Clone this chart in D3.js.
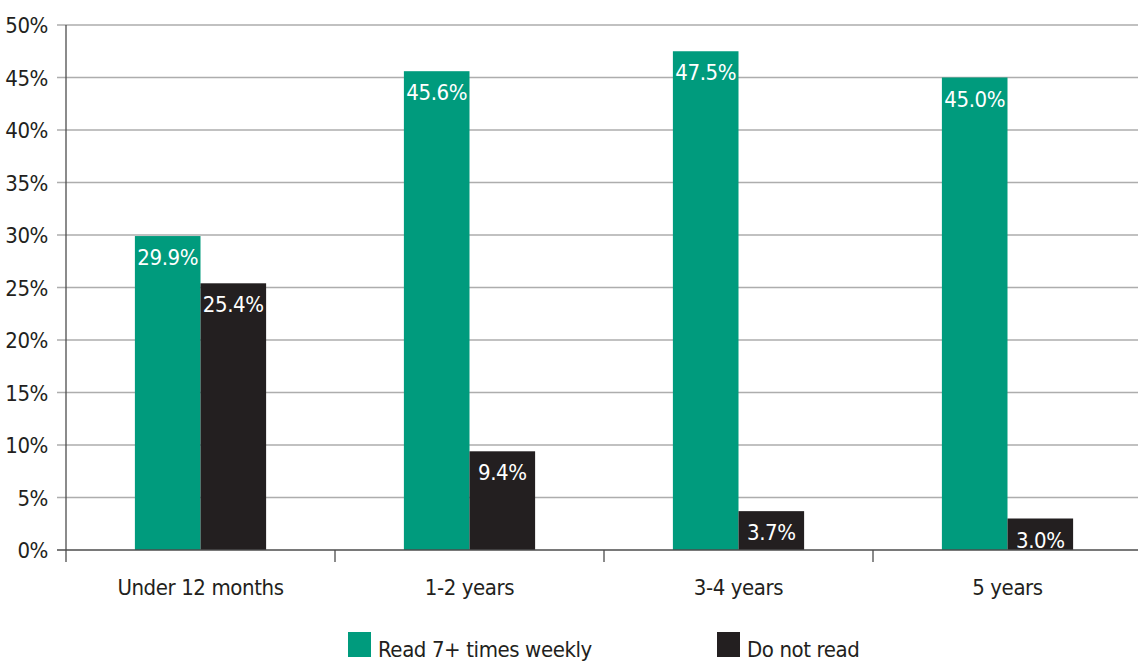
<!DOCTYPE html>
<html>
<head>
<meta charset="utf-8">
<script src="https://cdn.jsdelivr.net/npm/d3@7"></script>
<style>
  html, body { margin: 0; padding: 0; background: #fff; }
  svg text { font-family: "Liberation Sans Narrow", "Arial Narrow", "DejaVu Sans Condensed", sans-serif; letter-spacing: -0.4px; }
</style>
</head>
<body>
<svg id="chart" width="1138" height="662"></svg>
<script>
// Reading frequency by length of time in programme
const categories = ["Under 12 months", "1-2 years", "3-4 years", "5 years"];
const seriesNames = ["Read 7+ times weekly", "Do not read"];
const readWeekly = [29.9, 45.6, 47.5, 45.0];
const doNotRead = [25.4, 9.4, 3.7, 3.0];
const yTicks = [0, 5, 10, 15, 20, 25, 30, 35, 40, 45, 50];
const colors = ["#009b7d", "#231f20"];

const series = [readWeekly, doNotRead];
const svg = d3.select("#chart");

const x0 = d3.scaleBand().domain(categories).range([66, 1142]).paddingInner(0).paddingOuter(0);
const x1 = d3.scaleBand().domain(d3.range(series.length)).range([0, x0.bandwidth()])
  .paddingInner(0).paddingOuter(1.05);
const y = d3.scaleLinear().domain([0, 50]).range([550, 25]);

// horizontal gridlines with short ticks left of the axis
svg.append("g").selectAll("line").data(yTicks.filter(d => d > 0)).join("line")
  .attr("x1", 57).attr("x2", 1138)
  .attr("y1", d => y(d)).attr("y2", d => y(d))
  .attr("stroke", "#adadad").attr("stroke-width", 1.3);

// y tick labels
svg.append("g").selectAll("text").data(yTicks).join("text")
  .attr("x", 48).attr("y", d => y(d) + 8)
  .attr("text-anchor", "end")
  .attr("font-size", 22).attr("fill", "#231f20")
  .text(d => d + "%");

// bars
const groups = svg.append("g").selectAll("g").data(categories).join("g")
  .attr("transform", d => `translate(${x0(d)},0)`);

groups.selectAll("rect").data((c, i) => series.map((s, k) => ({ k, v: s[i] }))).join("rect")
  .attr("x", d => x1(d.k)).attr("width", x1.bandwidth())
  .attr("y", d => y(d.v)).attr("height", d => y(0) - y(d.v))
  .attr("fill", d => colors[d.k]);

groups.selectAll("text").data((c, i) => series.map((s, k) => ({ k, v: s[i] }))).join("text")
  .attr("x", d => x1(d.k) + x1.bandwidth() / 2)
  .attr("y", d => y(d.v) + 29)
  .attr("text-anchor", "middle")
  .attr("font-size", 22).attr("fill", "#fff")
  .text(d => d.v.toFixed(1) + "%");

// axes lines
svg.append("line").attr("x1", 66).attr("x2", 66).attr("y1", 25).attr("y2", 562)
  .attr("stroke", "#4d4d4d").attr("stroke-width", 1.3);
svg.append("line").attr("x1", 57).attr("x2", 1138).attr("y1", 550).attr("y2", 550)
  .attr("stroke", "#4d4d4d").attr("stroke-width", 1.3);

// category boundary ticks
svg.append("g").selectAll("line").data(categories.slice(1)).join("line")
  .attr("x1", d => x0(d)).attr("x2", d => x0(d))
  .attr("y1", 550).attr("y2", 562)
  .attr("stroke", "#4d4d4d").attr("stroke-width", 1.3);

// category labels
svg.append("g").selectAll("text").data(categories).join("text")
  .attr("x", d => x0(d) + x0.bandwidth() / 2).attr("y", 595)
  .attr("text-anchor", "middle")
  .attr("font-size", 22).attr("fill", "#231f20")
  .text(d => d);

// legend
const legendX = [348, 717];
const legend = svg.append("g").selectAll("g").data(seriesNames).join("g")
  .attr("transform", (d, i) => `translate(${legendX[i]},632)`);
legend.append("rect").attr("width", 23).attr("height", 25).attr("fill", (d, i) => colors[i]);
legend.append("text").attr("x", 30).attr("y", 25)
  .attr("font-size", 22).attr("fill", "#231f20").text(d => d);
</script>
</body>
</html>
